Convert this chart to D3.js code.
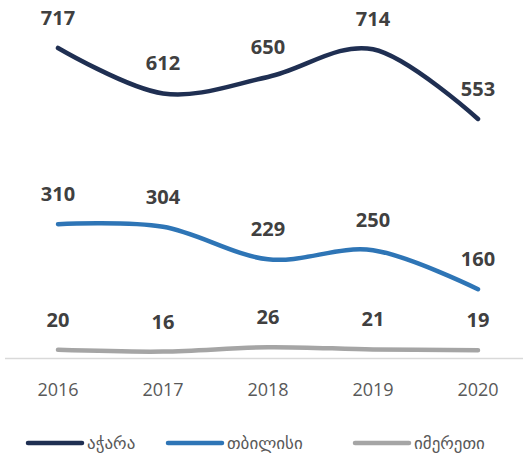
<!DOCTYPE html>
<html>
<head>
  <meta charset="utf-8">
  <script src="https://d3js.org/d3.v7.min.js"></script>
  <style>
    body { margin: 0; background: #fff; }
    text { font-family: "Open Sans", "DejaVu Sans", sans-serif; }
  </style>
</head>
<body>
  <div id="chart"></div>
  <script>
    const years = ["2016", "2017", "2018", "2019", "2020"];
    const adjara = [717, 612, 650, 714, 553];
    const tbilisi = [310, 304, 229, 250, 160];
    const imereti = [20, 16, 26, 21, 19];
    const seriesNames = ["აჭარა", "თბილისი", "იმერეთი"];
    const seriesColors = ["#1f2f52", "#2e75b6", "#a5a5a5"];
    const allSeries = [adjara, tbilisi, imereti];

    const width = 528, height = 459;
    const svg = d3.select("#chart").append("svg").attr("width", width).attr("height", height);

    const x = d3.scalePoint().domain(years).range([58, 478]);
    const y = d3.scaleLinear().domain([0, 800]).range([358.5, 12]);

    // category axis line
    svg.append("line")
      .attr("x1", 5).attr("x2", 523)
      .attr("y1", y(0)).attr("y2", y(0))
      .attr("stroke", "#d9d9d9").attr("stroke-width", 1.3);

    svg.selectAll(".year").data(years).enter().append("text")
      .attr("x", d => x(d)).attr("y", 396)
      .attr("text-anchor", "middle")
      .attr("font-size", 18).attr("fill", "#595959")
      .text(d => d);

    const line = d3.line()
      .x((d, i) => x(years[i]))
      .y(d => y(d))
      .curve(d3.curveCardinal.tension(0));

    allSeries.forEach((vals, k) => {
      svg.append("path")
        .attr("d", line(vals))
        .attr("fill", "none")
        .attr("stroke", seriesColors[k])
        .attr("stroke-width", 4.5)
        .attr("stroke-linecap", "round");

      svg.selectAll(".lbl" + k).data(vals).enter().append("text")
        .attr("x", (d, i) => x(years[i]))
        .attr("y", d => y(d) - 23)
        .attr("text-anchor", "middle")
        .attr("font-size", 20).attr("font-weight", "bold")
        .attr("fill", "#404040")
        .text(d => d);
    });

    // legend
    const legendX = [28, 168, 355];
    const legend = svg.selectAll(".leg").data(seriesNames).enter().append("g")
      .attr("transform", (d, i) => `translate(${legendX[i]},443)`);
    legend.append("line")
      .attr("x1", 0).attr("x2", 54)
      .attr("stroke", (d, i) => seriesColors[i])
      .attr("stroke-width", 4.5).attr("stroke-linecap", "round");
    legend.append("text")
      .attr("x", 59).attr("y", 6)
      .attr("font-family", "DejaVu Sans")
      .attr("font-size", 17).attr("fill", "#595959")
      .text(d => d);
  </script>
</body>
</html>
